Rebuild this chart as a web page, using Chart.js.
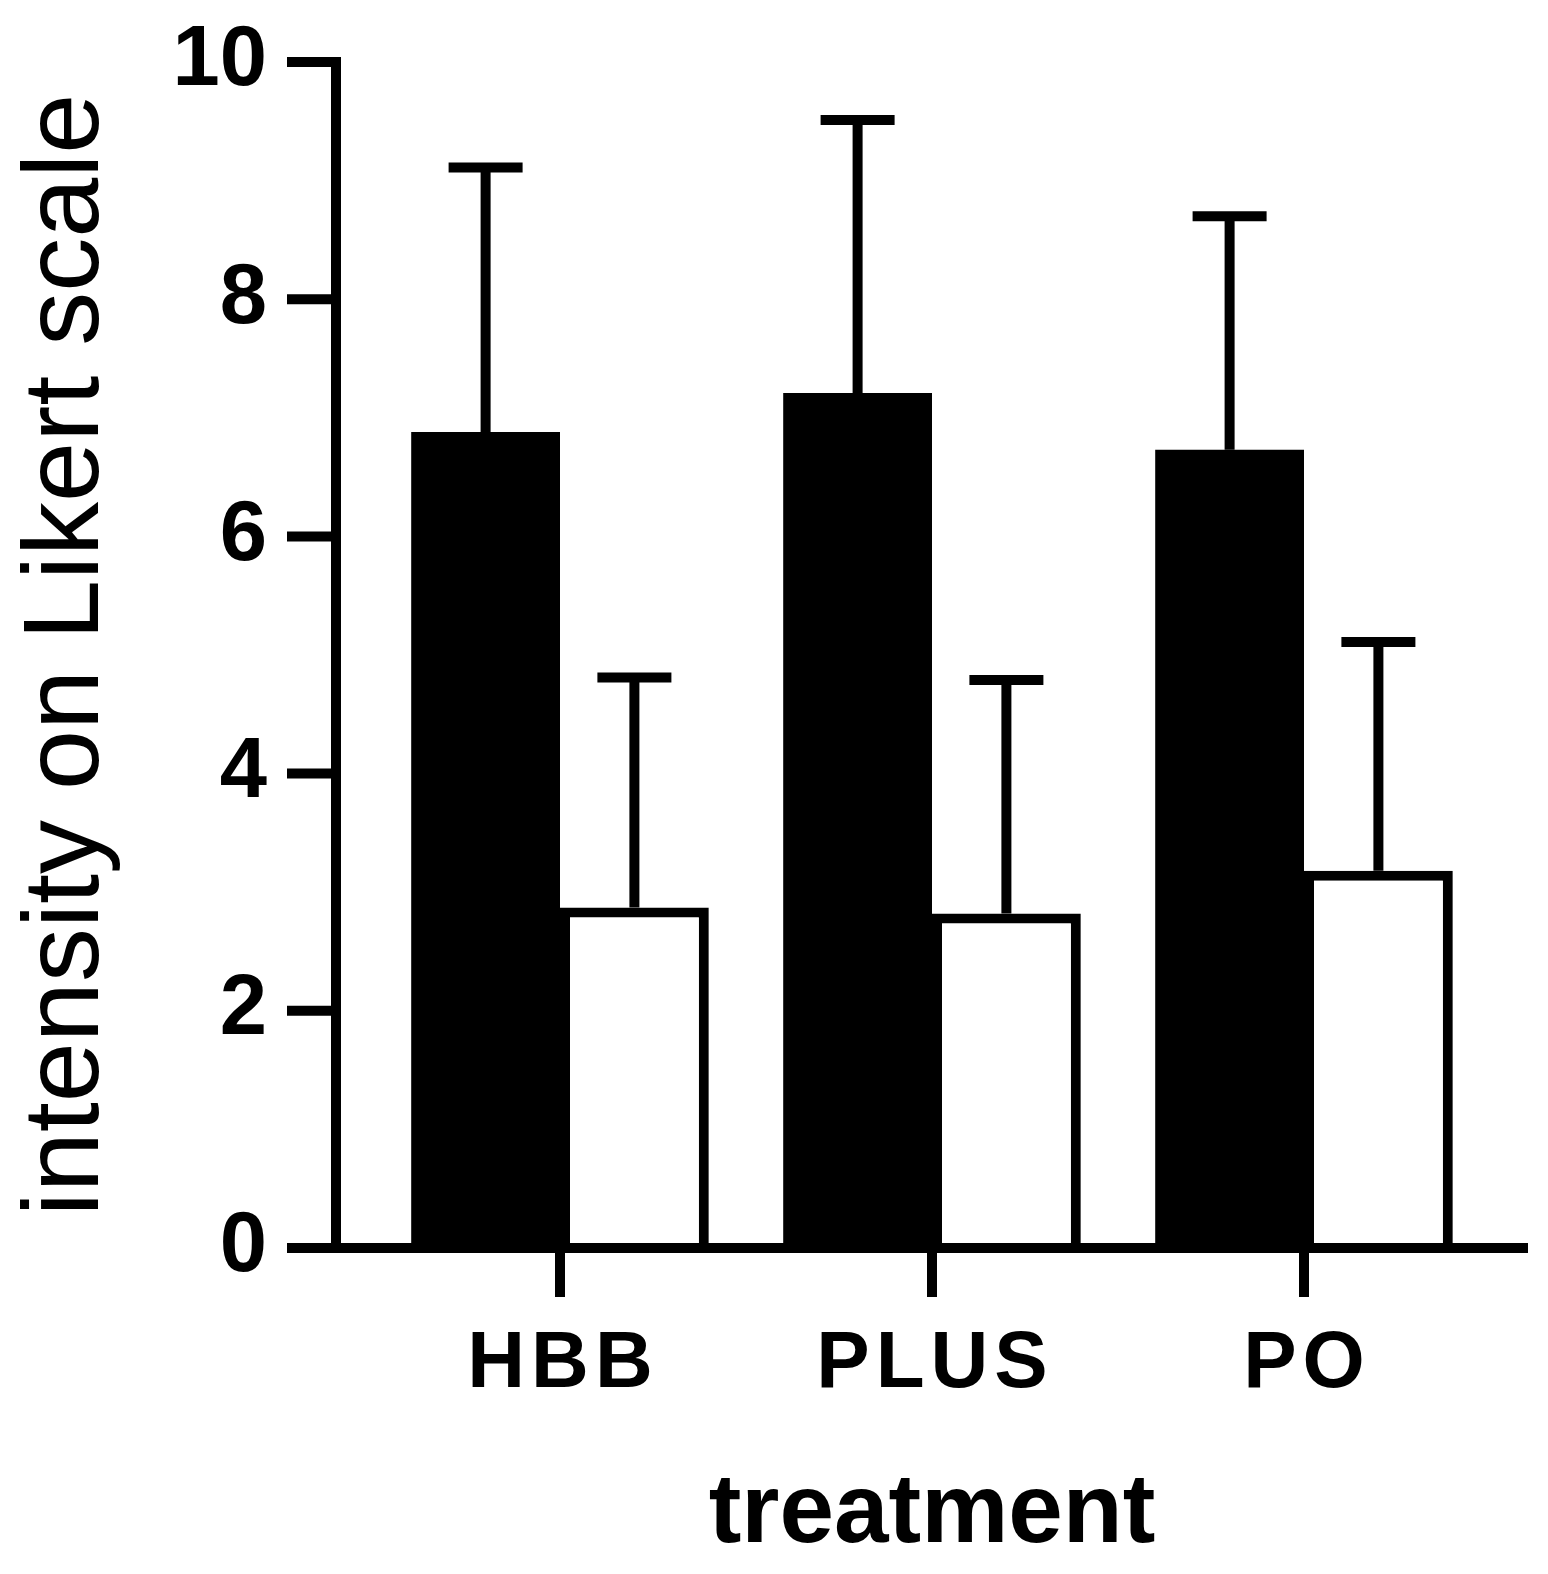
<!DOCTYPE html>
<html>
<head>
    <style>
        body, html {
            margin: 0;
            background: #ffffff;
        }
        #wrap {
            width: 1548px;
            height: 1574px;
        }
    </style>
    <script src="https://cdn.jsdelivr.net/npm/chart.js"></script>
</head>
<body>
    <div id="wrap">
        <canvas id="likertChart" width="1548" height="1574"></canvas>
    </div>

    <script>
        // data
        const categories = ["HBB", "PLUS", "PO"];
        const filledMeans = [6.88, 7.21, 6.73];
        const filledSD = [2.23, 2.30, 1.97];
        const openMeans = [2.87, 2.82, 3.18];
        const openSD = [1.94, 1.97, 1.93];
        const yTicks = [0, 2, 4, 6, 8, 10];

        const errorSets = [filledSD, openSD];
        const lineW = 10;
        const font = "'Liberation Sans', Arial, sans-serif";

        // draws the detached axes (Prism style), the SD whiskers and
        // the letter-spaced category labels
        const prismAxes = {
            id: "prismAxes",
            afterDatasetsDraw(chart) {
                const ctx = chart.ctx;
                const x = chart.scales.x;
                const y = chart.scales.y;
                const area = chart.chartArea;
                const axisX = area.left - 38;
                const tickLen = 49;
                const zeroY = y.getPixelForValue(0);
                const topY = y.getPixelForValue(yTicks[yTicks.length - 1]);

                ctx.save();
                ctx.strokeStyle = "#000";
                ctx.lineWidth = lineW;
                ctx.lineCap = "butt";

                // whiskers (upper only)
                chart.data.datasets.forEach((ds, d) => {
                    const meta = chart.getDatasetMeta(d);
                    meta.data.forEach((bar, i) => {
                        const top = y.getPixelForValue(ds.data[i] + errorSets[d][i]);
                        ctx.beginPath();
                        ctx.moveTo(bar.x, bar.y);
                        ctx.lineTo(bar.x, top);
                        ctx.moveTo(bar.x - 37, top);
                        ctx.lineTo(bar.x + 37, top);
                        ctx.stroke();
                    });
                });

                // y axis line and ticks
                ctx.beginPath();
                ctx.moveTo(axisX, topY - lineW / 2);
                ctx.lineTo(axisX, zeroY);
                yTicks.forEach(v => {
                    const py = y.getPixelForValue(v);
                    ctx.moveTo(axisX - tickLen, py);
                    ctx.lineTo(axisX + lineW / 2, py);
                });
                ctx.stroke();

                // x axis line and category ticks
                ctx.beginPath();
                ctx.moveTo(axisX - tickLen, zeroY);
                ctx.lineTo(area.right + 38, zeroY);
                categories.forEach((c, i) => {
                    const px = x.getPixelForValue(i);
                    ctx.moveTo(px, zeroY);
                    ctx.lineTo(px, zeroY + tickLen);
                });
                ctx.stroke();

                // category labels, spaced out like the original
                ctx.fillStyle = "#000";
                ctx.font = "bold 80px " + font;
                ctx.textAlign = "center";
                ctx.textBaseline = "alphabetic";
                ctx.letterSpacing = "6px";
                categories.forEach((c, i) => {
                    ctx.fillText(c, x.getPixelForValue(i) + 3, zeroY + 139);
                });
                ctx.restore();
            }
        };

        const ctx = document.getElementById("likertChart").getContext("2d");
        const likertChart = new Chart(ctx, {
            type: "bar",
            data: {
                labels: categories,
                datasets: [{
                    label: "Series 1",
                    data: filledMeans,
                    backgroundColor: "#000000",
                    borderWidth: 0
                }, {
                    label: "Series 2",
                    data: openMeans,
                    backgroundColor: "#ffffff",
                    borderColor: "#000000",
                    borderWidth: lineW
                }]
            },
            options: {
                responsive: false,
                animation: false,
                layout: {
                    padding: { top: 62, right: 58, bottom: 0, left: 0 }
                },
                plugins: {
                    legend: { display: false },
                    tooltip: { enabled: false }
                },
                datasets: {
                    bar: {
                        categoryPercentage: 0.8,
                        barPercentage: 1.0
                    }
                },
                scales: {
                    x: {
                        offset: true,
                        grid: { display: false, drawTicks: false },
                        border: { display: false },
                        ticks: { display: false },
                        title: {
                            display: true,
                            text: "treatment",
                            color: "#000",
                            padding: { top: 0, bottom: 0 },
                            font: { family: font, size: 98, weight: "bold" }
                        },
                        afterFit(scale) {
                            scale.height = 326;
                            scale.paddingLeft = 0;
                            scale.paddingRight = 0;
                        }
                    },
                    y: {
                        min: 0,
                        max: 10,
                        afterBuildTicks(scale) {
                            scale.ticks = yTicks.map(v => ({ value: v }));
                        },
                        grid: { display: false, drawTicks: false },
                        border: { display: false },
                        ticks: {
                            color: "#000",
                            padding: 107,
                            font: { family: font, size: 85, weight: "bold" }
                        },
                        title: {
                            display: true,
                            text: "intensity on Likert scale",
                            color: "#000",
                            padding: { top: 6, bottom: 0 },
                            font: { family: font, size: 108, weight: "normal", lineHeight: 1.15 }
                        },
                        afterFit(scale) {
                            scale.width = 374;
                            // the large label gap should not push the plot area down
                            scale.paddingTop = 52;
                            scale.paddingBottom = 52;
                        }
                    }
                }
            },
            plugins: [prismAxes]
        });
    </script>
</body>
</html>
